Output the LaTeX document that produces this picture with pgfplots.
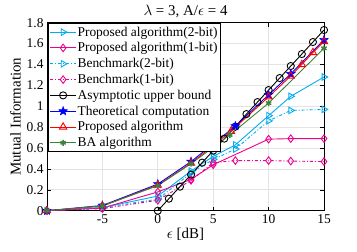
\documentclass[border=0pt]{standalone}
\usepackage{pgfplots}
\pgfplotsset{compat=1.18}
\usepackage{fontspec}
\setmainfont{Liberation Serif}
\newfontfamily\lgf[Scale=1.35]{Liberation Serif}
\newfontfamily\lbf[Scale=1.5]{Liberation Serif}
\newcommand\gk[1]{\scalebox{1.5}{$#1$}}
\definecolor{bagreen}{RGB}{60,130,60}
\pgfdeclareplotmark{fstar}{%
  \pgfpathmoveto{\pgfpointpolar{90}{\pgfplotmarksize}}%
  \pgfpathlineto{\pgfpointpolar{126}{0.42\pgfplotmarksize}}%
  \pgfpathlineto{\pgfpointpolar{162}{\pgfplotmarksize}}%
  \pgfpathlineto{\pgfpointpolar{198}{0.42\pgfplotmarksize}}%
  \pgfpathlineto{\pgfpointpolar{234}{\pgfplotmarksize}}%
  \pgfpathlineto{\pgfpointpolar{270}{0.42\pgfplotmarksize}}%
  \pgfpathlineto{\pgfpointpolar{306}{\pgfplotmarksize}}%
  \pgfpathlineto{\pgfpointpolar{342}{0.42\pgfplotmarksize}}%
  \pgfpathlineto{\pgfpointpolar{18}{\pgfplotmarksize}}%
  \pgfpathlineto{\pgfpointpolar{54}{0.42\pgfplotmarksize}}%
  \pgfpathclose
  \pgfusepathqfillstroke}
\begin{document}
\begin{tikzpicture}
\begin{axis}[
  name=ax,
  scale only axis, width=277bp, height=188bp,
  xmin=-10, xmax=15, ymin=0, ymax=1.8,
  xtick={-5,0,5,10,15},
  ytick={0,0.2,0.4,0.6,0.8,1,1.2,1.4,1.6,1.8},
  xticklabels={-5,0,5,10,15},
  yticklabels={0,0.2,0.4,0.6,0.8,1,1.2,1.4,1.6,1.8},
  tick align=inside, tick style={black, line width=0.6pt},
  major tick length=4bp,
  grid=major, grid style={gray!22, line width=0.7pt},
  axis line style={black, line width=0.8pt},
  ticklabel style={font=\lgf},
  title={\lbf \gk{\lambda} = 3, A/\gk{\epsilon} = 4},
  title style={yshift=-5pt},
  xlabel={\lbf \gk{\epsilon} [dB]},
  ylabel={\lbf Mutual Information},
  xlabel style={yshift=2pt},
  ylabel style={yshift=-1pt},
  legend cell align=left,
  legend style={at={(0.003,0.999)}, anchor=north west, draw=black, line width=0.7pt,
    font=\lgf, nodes={font=\lgf, inner xsep=1pt}, row sep=1pt, inner sep=1.5pt},
  legend image code/.code={\draw[mark repeat=2,mark phase=2] plot coordinates {(0bp,0bp) (13bp,0bp) (26bp,0bp)};},
  every axis plot/.append style={line width=0.9pt, mark size=3.8pt},
]
\addplot[cyan, mark=triangle, mark options={rotate=-90, fill=white}] coordinates {(-10,0) (-5,0.03) (0,0.14) (3,0.38) (5,0.52) (7,0.63) (10,0.91) (12,1.095) (15,1.28)};
\addlegendentry{\lgf Proposed algorithm(2-bit)}
\addplot[magenta, mark=diamond, mark options={fill=white}] coordinates {(-10,0) (-5,0.025) (0,0.18) (3,0.30) (5,0.44) (10,0.685) (12,0.69) (15,0.69)};
\addlegendentry{\lgf Proposed algorithm(1-bit)}
\addplot[cyan, dashdotted, mark=triangle, mark options={solid, rotate=-90, fill=white}] coordinates {(-10,0) (-5,0.03) (0,0.11) (3,0.36) (5,0.49) (7,0.59) (10,0.86) (12,0.96) (15,0.97)};
\addlegendentry{\lgf Benchmark(2-bit)}
\addplot[magenta, dashdotted, mark=diamond, mark options={solid, fill=white}] coordinates {(-10,0) (-5,0.02) (0,0.10) (3,0.29) (5,0.46) (7,0.48) (10,0.48) (12,0.475) (15,0.47)};
\addlegendentry{\lgf Benchmark(1-bit)}
\addplot[black, mark=o, mark size=3.6pt] coordinates {(0,0) (1,0.115) (2,0.23) (3,0.345) (4,0.46) (5,0.575) (6,0.69) (7,0.805) (8,0.925) (9,1.04) (10,1.155) (11,1.27) (12,1.385) (13,1.5) (14,1.615) (15,1.73)};
\addlegendentry{\lgf Asymptotic upper bound}
\addplot[blue, mark=fstar, mark options={fill=blue, line width=0.5pt, mark size=4.6pt}] coordinates {(-10,0) (-5,0.05) (0,0.255) (3,0.47) (7,0.81) (10,1.11) (12,1.31) (15,1.635)};
\addlegendentry{\lgf Theoretical computation}
\addplot[red, mark=triangle, mark options={fill=white, mark size=4.2pt}] coordinates {(-10,0) (-5,0.045) (0,0.245) (3,0.455) (6.6,0.76) (10,1.09) (12,1.29) (13,1.40) (14,1.515) (15,1.62)};
\addlegendentry{\lgf Proposed algorithm}
\addplot[bagreen, mark=asterisk, mark options={mark size=3pt, line width=1.4pt}] coordinates {(-10,0) (-5,0.045) (0,0.24) (3,0.45) (6.5,0.725) (10,1.03) (15,1.555)};
\addlegendentry{\lgf BA algorithm}
\end{axis}
\path ([xshift=-47bp,yshift=-41bp]ax.south west) rectangle ([xshift=33bp,yshift=22.7bp]ax.north east);
\end{tikzpicture}
\end{document}
